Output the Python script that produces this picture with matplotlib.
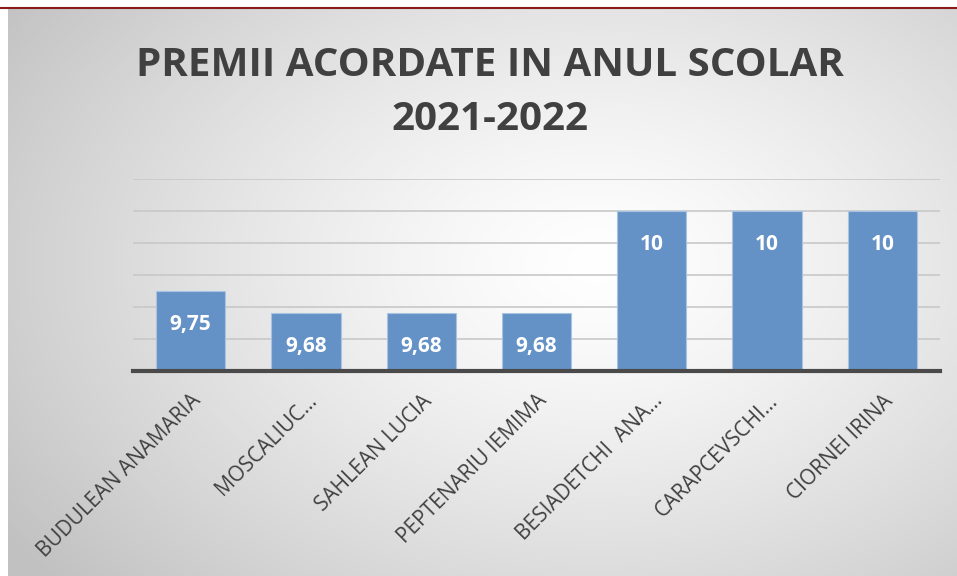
"""
Premii acordate in anul scolar 2021-2022 -- grafic cu bare.
Salida: out.png
"""

import matplotlib
matplotlib.use("Agg")
import matplotlib.pyplot as plt
from matplotlib.lines import Line2D
import numpy as np

elevi = [
    "BUDULEAN ANAMARIA",
    "MOSCALIUC\u2026",
    "SAHLEAN LUCIA",
    "PEPTENARIU IEMIMA",
    "BESIADETCHI  ANA\u2026",
    "CARAPCEVSCHI\u2026",
    "CIORNEI IRINA",
]
medii = [9.75, 9.68, 9.68, 9.68, 10, 10, 10]
etichete = ["9,75", "9,68", "9,68", "9,68", "10", "10", "10"]

TITLU = "PREMII ACORDATE IN ANUL SCOLAR\n2021-2022"
FONT = "Open Sans"
COLOR_BAR = "#6592c6"
COLOR_TEXT = "#404040"

W, H = 957, 576
fig = plt.figure(figsize=(W / 100, H / 100), dpi=100)
fig.patch.set_facecolor("white")

# fondo con degradado radial (blanco en el centro, gris en los bordes)
bg = fig.add_axes([8 / W, 0, 1 - 8 / W, 1 - 9 / H])
bg.set_axis_off()
yy, xx = np.mgrid[0:1:300j, 0:1:500j]
d = np.sqrt(((xx - 0.62) / 0.75) ** 2 + ((yy - 0.45) / 0.85) ** 2)
d = np.clip(d, 0, 1)
g = 1.0 - 0.24 * d ** 1.3
bg.imshow(np.dstack([g, g, g]), aspect="auto", extent=[0, 1, 0, 1], origin="upper")
bg.set_zorder(0)

# linea roja superior
fig.add_artist(Line2D([0, 1], [1 - 7.5 / H, 1 - 7.5 / H], transform=fig.transFigure,
                      color="#8b1a1a", linewidth=1.5))

ax = fig.add_axes([133 / W, 1 - 371 / H, (940 - 133) / W, (371 - 179) / H])
ax.set_zorder(1)
ax.patch.set_visible(False)

x = np.arange(len(elevi))
bars = ax.bar(x, medii, width=0.6, bottom=0, color=COLOR_BAR,
              edgecolor="#a9c3e3", linewidth=0.8, zorder=3)
ax.set_ylim(9.5, 10.1)
ax.set_xlim(-0.5, len(elevi) - 0.5)
ax.set_yticks(np.arange(9.6, 10.11, 0.1))
ax.yaxis.grid(True, color="#c8c8c8", linewidth=1.2, zorder=0)
ax.tick_params(axis="y", left=False, labelleft=False)
ax.tick_params(axis="x", length=0, pad=14)

for b, txt in zip(bars, etichete):
    ax.annotate(txt, (b.get_x() + b.get_width() / 2, b.get_height()),
                xytext=(0, -24), textcoords="offset points",
                ha="center", va="center", color="white", fontsize=15,
                fontweight="bold", family=FONT, zorder=4)

ax.set_xticks(x)
ax.set_xticklabels(elevi, rotation=45, ha="right", rotation_mode="anchor",
                   fontsize=15, family=FONT, color=COLOR_TEXT)

for side in ["top", "right", "left"]:
    ax.spines[side].set_visible(False)
ax.spines["bottom"].set_color("#4a4a4a")
ax.spines["bottom"].set_linewidth(3)
ax.spines["bottom"].set_zorder(5)

fig.text(0.512, 1 - 92 / H, TITLU, ha="center", va="center", fontsize=29,
         fontweight="bold", family=FONT, color=COLOR_TEXT, linespacing=1.5)

fig.savefig("out.png", dpi=100)
plt.close(fig)
